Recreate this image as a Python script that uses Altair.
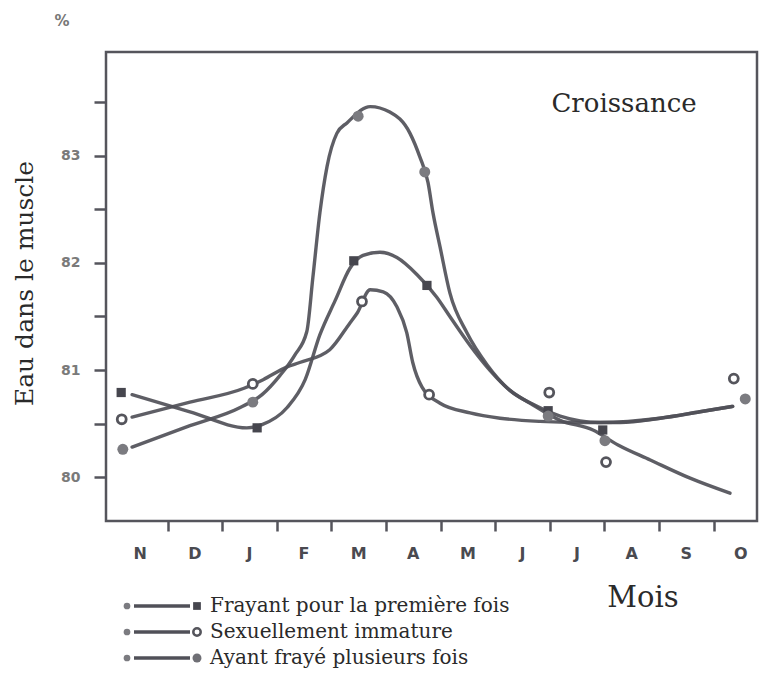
import altair as alt
import pandas as pd

# ---------------- data ----------------
MONTHS = ["N", "D", "J", "F", "M", "A", "M", "J", "J", "A", "S", "O"]
MONTH_POS = [i + 0.5 for i in range(12)]          # centre of each month interval
MONTH_BOUNDS = list(range(1, 12))                  # tick marks between months
Y_TICKS = [80, 80.5, 81, 81.5, 82, 82.5, 83, 83.5]
SERIES = ["Frayant pour la première fois", "Sexuellement immature", "Ayant frayé plusieurs fois"]

# sampled points (x in months from start of November, y = % water)
fray_pt_x = [0.15, 2.64, 4.41, 5.75, 7.97, 8.97]
fray_pt_y = [80.79, 80.46, 82.02, 81.79, 80.62, 80.44]
imm_pt_x = [0.16, 2.56, 4.56, 5.79, 7.99, 9.03, 11.37]
imm_pt_y = [80.54, 80.87, 81.64, 80.77, 80.79, 80.14, 80.92]
ayant_pt_x = [0.18, 2.56, 4.49, 5.71, 7.97, 9.01, 11.58]
ayant_pt_y = [80.26, 80.70, 83.37, 82.85, 80.57, 80.34, 80.73]

# hand-drawn trend curves
fray_cv_x = [0.35, 1.41, 2.45, 2.73, 3.19, 3.52, 3.79, 4.07, 4.34, 4.58, 4.89, 5.20, 5.57,
             5.93, 6.17, 6.54, 6.90, 7.27, 7.64, 8.19, 8.79, 9.25, 9.84, 10.57, 11.30]
fray_cv_y = [80.77, 80.61, 80.46, 80.49, 80.65, 80.91, 81.33, 81.65, 81.95, 82.07, 82.10, 82.05, 81.89,
             81.68, 81.50, 81.23, 81.00, 80.81, 80.69, 80.53, 80.44, 80.30, 80.16, 79.99, 79.85]
imm_cv_x = [0.35, 1.41, 2.40, 2.75, 3.19, 3.42, 3.97, 4.34, 4.47, 4.71, 4.95, 5.20,
            5.38, 5.49, 5.66, 5.99, 6.54, 7.09, 7.82, 8.55, 9.29, 10.02, 10.75, 11.35]
imm_cv_y = [80.56, 80.70, 80.83, 80.91, 81.03, 81.07, 81.19, 81.44, 81.53, 81.75, 81.73, 81.59,
            81.35, 81.07, 80.84, 80.69, 80.60, 80.55, 80.52, 80.51, 80.51, 80.55, 80.61, 80.66]
ayant_cv_x = [0.35, 1.41, 2.33, 2.73, 3.06, 3.33, 3.55, 3.66, 3.79, 3.92, 4.10, 4.29, 4.71, 5.07,
              5.44, 5.62, 5.77, 5.86, 5.99, 6.17, 6.48, 6.85, 7.27, 7.73, 8.19, 8.92, 10.02, 10.75, 11.35]
ayant_cv_y = [80.28, 80.48, 80.65, 80.77, 80.95, 81.14, 81.36, 81.86, 82.47, 82.90, 83.21, 83.31, 83.46, 83.41,
              83.21, 82.99, 82.75, 82.47, 82.15, 81.72, 81.35, 81.05, 80.81, 80.67, 80.57, 80.51, 80.55, 80.61, 80.66]

# ---------------- tables ----------------
curves = pd.concat([
    pd.DataFrame({"serie": SERIES[0], "x": fray_cv_x, "y": fray_cv_y}),
    pd.DataFrame({"serie": SERIES[1], "x": imm_cv_x, "y": imm_cv_y}),
    pd.DataFrame({"serie": SERIES[2], "x": ayant_cv_x, "y": ayant_cv_y}),
], ignore_index=True)
curves["o"] = range(len(curves))

fray_pts = pd.DataFrame({"x": fray_pt_x, "y": fray_pt_y})
imm_pts = pd.DataFrame({"x": imm_pt_x, "y": imm_pt_y})
ayant_pts = pd.DataFrame({"x": ayant_pt_x, "y": ayant_pt_y})
months_df = pd.DataFrame({"m": MONTHS, "x": MONTH_POS})

LINE = "#505058"
X_DOMAIN = [-0.128, 11.795]
Y_DOMAIN = [79.59, 83.97]

x_enc = alt.X("x:Q", scale=alt.Scale(domain=X_DOMAIN, nice=False, zero=False),
              axis=alt.Axis(values=MONTH_BOUNDS, labels=False, title=None, grid=False,
                            domain=False, tickColor="#55555c", tickWidth=2.5, tickSize=10))
y_enc = alt.Y("y:Q", scale=alt.Scale(domain=Y_DOMAIN, nice=False, zero=False),
              axis=alt.Axis(values=Y_TICKS, labelExpr="datum.value % 1 == 0 ? '' + datum.value : ''",
                            title="Eau dans le muscle", grid=False, domain=False,
                            tickColor="#55555c", tickWidth=2.5, tickSize=12,
                            labelFont="DejaVu Sans", labelFontWeight="bold", labelFontSize=14,
                            labelColor="#7a7a7a", labelPadding=14, labelOverlap=False,
                            labelFlush=False, labelBound=False,
                            titleFont="DejaVu Serif", titleFontWeight="normal", titleFontSize=25,
                            titleColor="#2a2a2a", titleAngle=270, titleX=-82, titleY=231,
                            titleAlign="center", titleBaseline="middle"))

lines = alt.Chart(curves).mark_line(interpolate="monotone", color=LINE, strokeWidth=3.4,
                                    strokeCap="round", opacity=0.92).encode(
    x=x_enc, y=y_enc, detail="serie:N", order="o:Q")

sq = alt.Chart(fray_pts).mark_point(shape="square", filled=True, size=85, color="#46464e", opacity=1).encode(
    x="x:Q", y="y:Q")
hollow = alt.Chart(imm_pts).mark_point(shape="circle", filled=False, size=80, stroke="#55555c",
                                       fill="white", fillOpacity=1, strokeWidth=2.8, opacity=1).encode(
    x="x:Q", y="y:Q")
filled = alt.Chart(ayant_pts).mark_point(shape="circle", filled=True, size=120, color="#7b7b80", opacity=1).encode(
    x="x:Q", y="y:Q")

month_labels = alt.Chart(months_df).mark_text(
    font="DejaVu Sans", fontWeight="bold", fontSize=16, color="#4a4a50", baseline="middle"
).encode(x="x:Q", y=alt.value(502), text="m:N")

# ---------------- annotations ----------------
def label_layer(text, x, y, size, font="DejaVu Serif", weight="normal", color="#2a2a2a", align="center"):
    return alt.Chart(pd.DataFrame({"t": [text]})).mark_text(
        font=font, fontSize=size, fontWeight=weight, color=color, align=align, baseline="middle"
    ).encode(text="t:N", x=alt.value(x), y=alt.value(y))

layers = [lines, sq, hollow, filled, month_labels,
          label_layer("Croissance", 518, 52, 26),
          label_layer("Mois", 537, 546, 29),
          label_layer("%", -44, -31, 15, font="DejaVu Sans", weight="bold", color="#777")]

# custom legend: dot —— marker  label
row_y = [554, 580, 606]
for i, name in enumerate(SERIES):
    one = pd.DataFrame({"t": [name]})
    y = row_y[i]
    layers.append(alt.Chart(one).mark_point(shape="circle", filled=True, size=45, color="#7b7b80", opacity=1)
                  .encode(x=alt.value(21), y=alt.value(y)))
    layers.append(alt.Chart(one).mark_rule(color=LINE, strokeWidth=3.4)
                  .encode(x=alt.value(28), x2=alt.value(84), y=alt.value(y)))
    if i == 0:
        m = alt.Chart(one).mark_point(shape="square", filled=True, size=60, color="#46464e", opacity=1)
    elif i == 1:
        m = alt.Chart(one).mark_point(shape="circle", filled=False, size=55, stroke="#55555c",
                                      fill="white", fillOpacity=1, strokeWidth=2.5, opacity=1)
    else:
        m = alt.Chart(one).mark_point(shape="circle", filled=True, size=80, color="#6f6f75", opacity=1)
    layers.append(m.encode(x=alt.value(91), y=alt.value(y)))
    layers.append(alt.Chart(one).mark_text(font="DejaVu Serif", fontSize=20, color="#2a2a2a",
                                           align="left", baseline="middle")
                  .encode(text="t:N", x=alt.value(104), y=alt.value(y)))

chart = alt.layer(*layers).properties(
    width=651, height=469,
    padding={"left": 98, "top": 44, "right": 2, "bottom": 156},
    autosize=alt.AutoSizeParams(type="none"),
    background="white",
).configure_view(stroke="#55555c", strokeWidth=2.5)

chart.save("out.html", embed_options={"renderer": "svg", "actions": False})
